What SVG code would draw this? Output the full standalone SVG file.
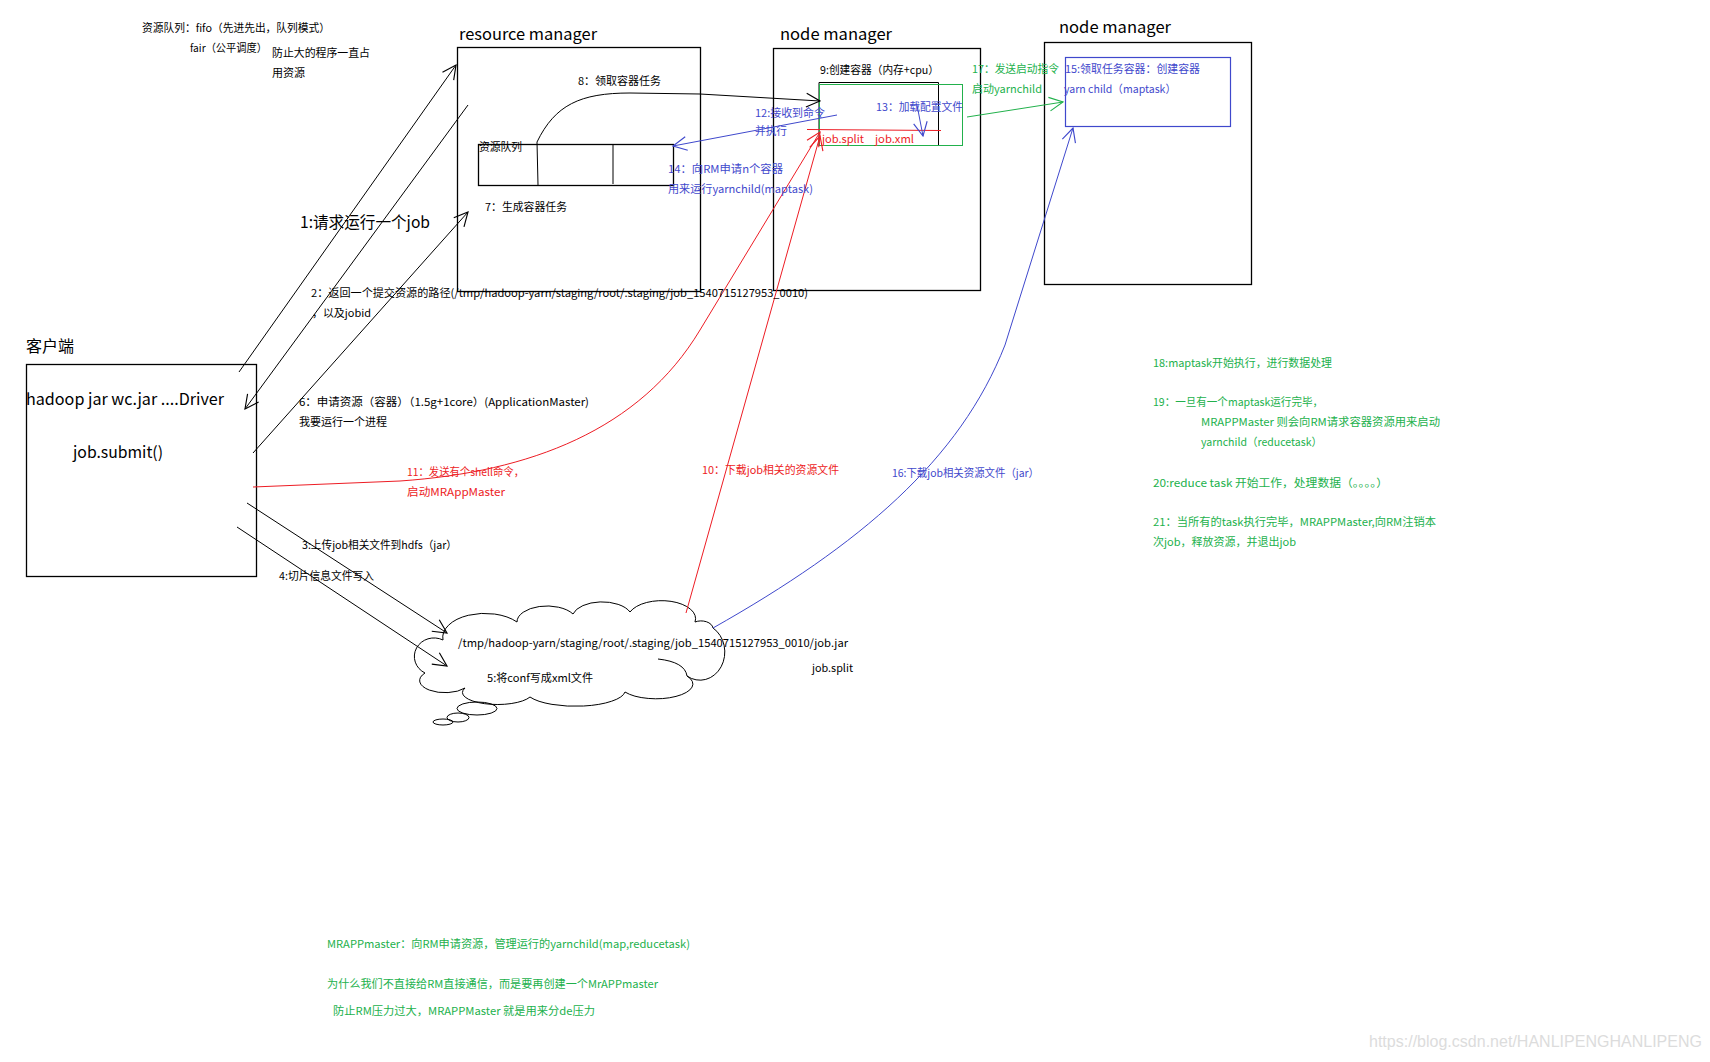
<svg xmlns="http://www.w3.org/2000/svg" width="1710" height="1062" viewBox="0 0 1710 1062">
<style>
text{font-family:"Noto Sans CJK SC","Noto Sans",sans-serif;font-size:11px;fill:#000}
.big{font-size:16px}
.blue{fill:#3f48cc}
.red{fill:#ed1c24}
.green{fill:#22b14c}
.wm{fill:#dcdcdc;font-size:16px;font-family:"Liberation Sans",sans-serif}
.box{fill:none;stroke:#000;stroke-width:1.3}
.ln{fill:none;stroke:#000;stroke-width:1}
.lr{fill:none;stroke:#ed1c24;stroke-width:1}
.lb{fill:none;stroke:#3f48cc;stroke-width:1}
.lg{fill:none;stroke:#22b14c;stroke-width:1}
</style>
<defs>
<marker id="ak" markerUnits="userSpaceOnUse" markerWidth="16" markerHeight="16" viewBox="0 0 14 14" refX="13" refY="7" orient="auto"><path d="M1,1 L13,7 L1,13" fill="none" stroke="#000" stroke-width="1"/></marker>
<marker id="ar" markerUnits="userSpaceOnUse" markerWidth="16" markerHeight="16" viewBox="0 0 14 14" refX="13" refY="7" orient="auto"><path d="M1,1 L13,7 L1,13" fill="none" stroke="#ed1c24" stroke-width="1"/></marker>
<marker id="ab" markerUnits="userSpaceOnUse" markerWidth="16" markerHeight="16" viewBox="0 0 14 14" refX="13" refY="7" orient="auto"><path d="M1,1 L13,7 L1,13" fill="none" stroke="#3f48cc" stroke-width="1"/></marker>
<marker id="ag" markerUnits="userSpaceOnUse" markerWidth="16" markerHeight="16" viewBox="0 0 14 14" refX="13" refY="7" orient="auto"><path d="M1,1 L13,7 L1,13" fill="none" stroke="#22b14c" stroke-width="1"/></marker>
</defs>
<rect width="1710" height="1062" fill="#fff"/>

<g id="scheduler-note">
<text x="142" y="32" textLength="188" lengthAdjust="spacingAndGlyphs">资源队列：fifo（先进先出，队列模式）</text>
<text x="190" y="52" textLength="77" lengthAdjust="spacingAndGlyphs">fair（公平调度）</text>
<text x="272" y="57" textLength="98" lengthAdjust="spacingAndGlyphs">防止大的程序一直占</text>
<text x="272" y="77" textLength="33" lengthAdjust="spacingAndGlyphs">用资源</text>
</g>

<g id="client">
<text class="big" x="26" y="352" textLength="48" lengthAdjust="spacingAndGlyphs">客户端</text>
<rect class="box" x="26.5" y="364.5" width="230" height="212"/>
<text class="big" x="26" y="405" textLength="198" lengthAdjust="spacingAndGlyphs">hadoop jar wc.jar ....Driver</text>
<text class="big" x="73" y="458" textLength="90" lengthAdjust="spacingAndGlyphs">job.submit()</text>
</g>

<g id="resource-manager">
<text class="big" x="459" y="40" textLength="138" lengthAdjust="spacingAndGlyphs">resource manager</text>
<rect class="box" x="457.5" y="47.5" width="243" height="244"/>
<rect class="box" x="478.5" y="144.5" width="195" height="41"/>
<line class="ln" x1="537" y1="142" x2="538" y2="185"/>
<line class="ln" x1="613" y1="144" x2="613" y2="184"/>
<text x="479" y="151" textLength="43" lengthAdjust="spacingAndGlyphs">资源队列</text>
<text x="485" y="211" textLength="82" lengthAdjust="spacingAndGlyphs">7：生成容器任务</text>
<text x="578" y="85" textLength="83" lengthAdjust="spacingAndGlyphs">8：领取容器任务</text>
</g>

<g id="node-manager-1">
<text class="big" x="780" y="40" textLength="112" lengthAdjust="spacingAndGlyphs">node manager</text>
<rect class="box" x="773.5" y="48.5" width="207" height="242"/>
<text x="820" y="74" textLength="119" lengthAdjust="spacingAndGlyphs">9:创建容器（内存+cpu）</text>
<polyline class="ln" points="819,146 819,82.5 938.5,82.5 938.5,146"/>
<rect x="819.5" y="84.5" width="143" height="61" fill="none" stroke="#22b14c" stroke-width="1"/>
<line class="lr" x1="807" y1="129.5" x2="941" y2="130.5"/>
<text class="red" x="822" y="143" textLength="42" lengthAdjust="spacingAndGlyphs">job.split</text>
<text class="red" x="875" y="143" textLength="39" lengthAdjust="spacingAndGlyphs">job.xml</text>
<text class="blue" x="876" y="111" textLength="87" lengthAdjust="spacingAndGlyphs">13：加载配置文件</text>
</g>

<g id="node-manager-2">
<text class="big" x="1059" y="33" textLength="112" lengthAdjust="spacingAndGlyphs">node manager</text>
<rect class="box" x="1044.5" y="42.5" width="207" height="242"/>
<rect x="1065.5" y="57.5" width="165" height="69" fill="none" stroke="#3f48cc" stroke-width="1.2"/>
<text class="blue" x="1065" y="73" textLength="135" lengthAdjust="spacingAndGlyphs">15:领取任务容器：创建容器</text>
<text class="blue" x="1064" y="93" textLength="112" lengthAdjust="spacingAndGlyphs">yarn child（maptask）</text>
</g>

<g id="hdfs-cloud">
<path class="ln" d="M443,640 A42 24 0 0 1 517,622 A30 16 0 0 1 573,614 A30 16 0 0 1 630,612 A34 18 0 0 1 695,622 A12 8 0 0 1 713,628 A22 25 0 0 1 687,676 A35 14 0 0 1 625,692 A50 16 0 0 1 530,697 A35 12 0 0 1 465,688 A25 12 0 0 1 425,673 A18 17 0 0 1 443,640"/>
<path class="ln" d="M658,659 Q685,662 687,676"/>
<ellipse class="ln" cx="477" cy="708.5" rx="20" ry="6.5"/>
<ellipse class="ln" cx="458" cy="717.5" rx="11" ry="4.5"/>
<ellipse class="ln" cx="443" cy="722" rx="10" ry="3"/>
<text x="458" y="647" textLength="390" lengthAdjust="spacingAndGlyphs">/tmp/hadoop-yarn/staging/root/.staging/job_1540715127953_0010/job.jar</text>
<text x="812" y="672" textLength="41" lengthAdjust="spacingAndGlyphs">job.split</text>
<text x="487" y="682" textLength="106" lengthAdjust="spacingAndGlyphs">5:将conf写成xml文件</text>
</g>

<g id="connectors">
<line class="ln" x1="239" y1="372" x2="456" y2="65" marker-end="url(#ak)"/>
<line class="ln" x1="468" y1="105" x2="245" y2="409" marker-end="url(#ak)"/>
<line class="ln" x1="253" y1="453" x2="468" y2="212" marker-end="url(#ak)"/>
<line class="ln" x1="247" y1="503" x2="447" y2="633" marker-end="url(#ak)"/>
<line class="ln" x1="237" y1="527" x2="447" y2="666" marker-end="url(#ak)"/>
<path class="ln" d="M537,142 C555,105 580,93 630,93 L700,94 L820,101" marker-end="url(#ak)"/>
<path class="lr" d="M253,487 L400,481 C530,472 640,430 700,330 L820,132" marker-end="url(#ar)"/>
<line class="lr" x1="686" y1="613" x2="820" y2="136" marker-end="url(#ar)"/>
<line class="lb" x1="837" y1="115" x2="673" y2="146" marker-end="url(#ab)"/>
<line class="lb" x1="917" y1="105" x2="923" y2="136" marker-end="url(#ab)"/>
<path class="lb" d="M713,628 C860,545 960,460 1005,345 L1073,128" marker-end="url(#ab)"/>
<line class="lg" x1="967" y1="117" x2="1063" y2="102" marker-end="url(#ag)"/>
</g>

<g id="connector-labels">
<text class="big" x="300" y="228" textLength="130" lengthAdjust="spacingAndGlyphs">1:请求运行一个job</text>
<text x="311" y="297" textLength="497" lengthAdjust="spacingAndGlyphs">2：返回一个提交资源的路径(/tmp/hadoop-yarn/staging/root/.staging/job_1540715127953_0010)</text>
<text x="312" y="317" textLength="59" lengthAdjust="spacingAndGlyphs">，以及jobid</text>
<text x="299" y="406" textLength="290" lengthAdjust="spacingAndGlyphs">6：申请资源（容器）（1.5g+1core）(ApplicationMaster)</text>
<text x="299" y="426" textLength="88" lengthAdjust="spacingAndGlyphs">我要运行一个进程</text>
<text x="302" y="549" textLength="155" lengthAdjust="spacingAndGlyphs">3:上传job相关文件到hdfs（jar）</text>
<text x="279" y="580" textLength="95" lengthAdjust="spacingAndGlyphs">4:切片信息文件写入</text>
<text class="red" x="407" y="476" textLength="117" lengthAdjust="spacingAndGlyphs">11：发送有个shell命令，</text>
<text class="red" x="407" y="496" textLength="98" lengthAdjust="spacingAndGlyphs">启动MRAppMaster</text>
<text class="red" x="702" y="474" textLength="137" lengthAdjust="spacingAndGlyphs">10：下载job相关的资源文件</text>
<text class="blue" x="892" y="477" textLength="147" lengthAdjust="spacingAndGlyphs">16:下载job相关资源文件（jar）</text>
<text class="blue" x="668" y="173" textLength="115" lengthAdjust="spacingAndGlyphs">14：向RM申请n个容器</text>
<text class="blue" x="668" y="193" textLength="145" lengthAdjust="spacingAndGlyphs">用来运行yarnchild(maptask)</text>
<text class="blue" x="755" y="117" textLength="70" lengthAdjust="spacingAndGlyphs">12:接收到命令</text>
<text class="blue" x="755" y="135" textLength="32" lengthAdjust="spacingAndGlyphs">并执行</text>
<text class="green" x="972" y="73" textLength="87" lengthAdjust="spacingAndGlyphs">17：发送启动指令</text>
<text class="green" x="972" y="93" textLength="70" lengthAdjust="spacingAndGlyphs">启动yarnchild</text>
</g>

<g id="steps-note">
<text class="green" x="1153" y="367" textLength="179" lengthAdjust="spacingAndGlyphs">18:maptask开始执行，进行数据处理</text>
<text class="green" x="1153" y="406" textLength="170" lengthAdjust="spacingAndGlyphs">19：一旦有一个maptask运行完毕，</text>
<text class="green" x="1201" y="426" textLength="239" lengthAdjust="spacingAndGlyphs">MRAPPMaster 则会向RM请求容器资源用来启动</text>
<text class="green" x="1201" y="446" textLength="121" lengthAdjust="spacingAndGlyphs">yarnchild（reducetask）</text>
<text class="green" x="1153" y="487" textLength="235" lengthAdjust="spacingAndGlyphs">20:reduce task 开始工作，处理数据（。。。。）</text>
<text class="green" x="1153" y="526" textLength="283" lengthAdjust="spacingAndGlyphs">21：当所有的task执行完毕，MRAPPMaster,向RM注销本</text>
<text class="green" x="1153" y="546" textLength="143" lengthAdjust="spacingAndGlyphs">次job，释放资源，并退出job</text>
</g>

<g id="mrappmaster-note">
<text class="green" x="327" y="948" textLength="363" lengthAdjust="spacingAndGlyphs">MRAPPmaster：向RM申请资源，管理运行的yarnchild(map,reducetask)</text>
<text class="green" x="327" y="988" textLength="331" lengthAdjust="spacingAndGlyphs">为什么我们不直接给RM直接通信，而是要再创建一个MrAPPmaster</text>
<text class="green" x="333" y="1015" textLength="262" lengthAdjust="spacingAndGlyphs">防止RM压力过大，MRAPPMaster 就是用来分de压力</text>
</g>

<text class="wm" x="1369" y="1047" textLength="333" lengthAdjust="spacingAndGlyphs">https://blog.csdn.net/HANLIPENGHANLIPENG</text>
</svg>
